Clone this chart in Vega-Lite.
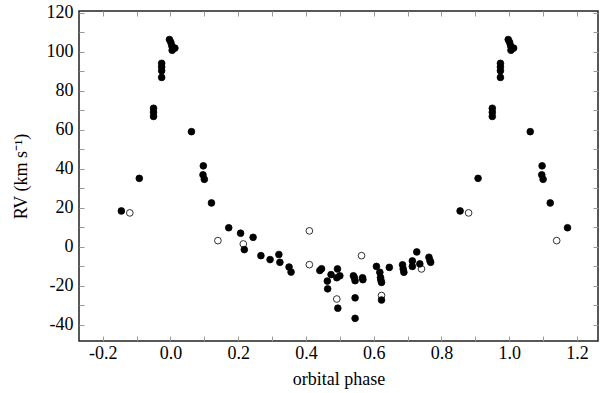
{
  "$schema": "https://vega.github.io/schema/vega-lite/v6.json",
  "width": 519,
  "height": 330,
  "autosize": {"type": "none"},
  "padding": {"left": 79, "top": 11, "right": 2, "bottom": 52},
  "background": "white",
  "config": {
    "view": {"stroke": "#222", "strokeWidth": 1.5},
    "font": "Liberation Serif",
    "axis": {
      "domain": false,
      "grid": false,
      "tickColor": "#999",
      "tickWidth": 1,
      "tickSize": 5,
      "offset": -5,
      "labelFont": "Liberation Serif",
      "labelFontSize": 18,
      "labelColor": "#000",
      "titleFont": "Liberation Serif",
      "titleFontSize": 18,
      "titleFontWeight": "normal",
      "titleColor": "#000"
    }
  },
  "data": {
    "values": [
      {"p": -0.12, "rv": 17.4, "t": "open"},
      {"p": 0.88, "rv": 17.4, "t": "open"},
      {"p": 0.14, "rv": 3.2, "t": "open"},
      {"p": 1.14, "rv": 3.2, "t": "open"},
      {"p": 0.215, "rv": 1.5, "t": "open"},
      {"p": 0.41, "rv": 8.2, "t": "open"},
      {"p": 0.41, "rv": -9.1, "t": "open"},
      {"p": 0.491, "rv": -26.7, "t": "open"},
      {"p": 0.564, "rv": -4.5, "t": "open"},
      {"p": 0.623, "rv": -24.9, "t": "open"},
      {"p": 0.741, "rv": -11.3, "t": "open"},
      {"p": -0.145, "rv": 18.4, "t": "filled"},
      {"p": 0.855, "rv": 18.4, "t": "filled"},
      {"p": -0.092, "rv": 35.1, "t": "filled"},
      {"p": 0.908, "rv": 35.1, "t": "filled"},
      {"p": -0.05, "rv": 71.0, "t": "filled"},
      {"p": 0.95, "rv": 71.0, "t": "filled"},
      {"p": -0.05, "rv": 69.0, "t": "filled"},
      {"p": 0.95, "rv": 69.0, "t": "filled"},
      {"p": -0.05, "rv": 66.8, "t": "filled"},
      {"p": 0.95, "rv": 66.8, "t": "filled"},
      {"p": -0.026, "rv": 94.0, "t": "filled"},
      {"p": 0.974, "rv": 94.0, "t": "filled"},
      {"p": -0.026, "rv": 92.2, "t": "filled"},
      {"p": 0.974, "rv": 92.2, "t": "filled"},
      {"p": -0.026, "rv": 90.2, "t": "filled"},
      {"p": 0.974, "rv": 90.2, "t": "filled"},
      {"p": -0.026, "rv": 86.8, "t": "filled"},
      {"p": 0.974, "rv": 86.8, "t": "filled"},
      {"p": -0.003, "rv": 106.2, "t": "filled"},
      {"p": 0.997, "rv": 106.2, "t": "filled"},
      {"p": 0.001, "rv": 104.8, "t": "filled"},
      {"p": 1.001, "rv": 104.8, "t": "filled"},
      {"p": 0.004, "rv": 103.0, "t": "filled"},
      {"p": 1.004, "rv": 103.0, "t": "filled"},
      {"p": 0.009, "rv": 101.8, "t": "filled"},
      {"p": 1.009, "rv": 101.8, "t": "filled"},
      {"p": 0.005, "rv": 100.7, "t": "filled"},
      {"p": 1.005, "rv": 100.7, "t": "filled"},
      {"p": 0.013, "rv": 101.8, "t": "filled"},
      {"p": 1.013, "rv": 101.8, "t": "filled"},
      {"p": 0.062, "rv": 59.0, "t": "filled"},
      {"p": 1.062, "rv": 59.0, "t": "filled"},
      {"p": 0.097, "rv": 41.5, "t": "filled"},
      {"p": 1.097, "rv": 41.5, "t": "filled"},
      {"p": 0.096, "rv": 36.9, "t": "filled"},
      {"p": 1.096, "rv": 36.9, "t": "filled"},
      {"p": 0.1, "rv": 34.6, "t": "filled"},
      {"p": 1.1, "rv": 34.6, "t": "filled"},
      {"p": 0.121, "rv": 22.5, "t": "filled"},
      {"p": 1.121, "rv": 22.5, "t": "filled"},
      {"p": 0.172, "rv": 9.8, "t": "filled"},
      {"p": 1.172, "rv": 9.8, "t": "filled"},
      {"p": 0.207, "rv": 7.0, "t": "filled"},
      {"p": 0.218, "rv": -1.4, "t": "filled"},
      {"p": 0.244, "rv": 4.9, "t": "filled"},
      {"p": 0.267, "rv": -4.5, "t": "filled"},
      {"p": 0.294, "rv": -6.5, "t": "filled"},
      {"p": 0.32, "rv": -3.9, "t": "filled"},
      {"p": 0.323, "rv": -7.9, "t": "filled"},
      {"p": 0.35, "rv": -10.3, "t": "filled"},
      {"p": 0.356, "rv": -12.9, "t": "filled"},
      {"p": 0.441, "rv": -12.1, "t": "filled"},
      {"p": 0.446, "rv": -11.2, "t": "filled"},
      {"p": 0.463, "rv": -17.5, "t": "filled"},
      {"p": 0.464, "rv": -21.5, "t": "filled"},
      {"p": 0.474, "rv": -14.2, "t": "filled"},
      {"p": 0.493, "rv": -11.3, "t": "filled"},
      {"p": 0.491, "rv": -15.8, "t": "filled"},
      {"p": 0.5, "rv": -14.8, "t": "filled"},
      {"p": 0.494, "rv": -31.4, "t": "filled"},
      {"p": 0.54, "rv": -14.8, "t": "filled"},
      {"p": 0.543, "rv": -15.8, "t": "filled"},
      {"p": 0.545, "rv": -17.3, "t": "filled"},
      {"p": 0.545, "rv": -26.1, "t": "filled"},
      {"p": 0.545, "rv": -36.6, "t": "filled"},
      {"p": 0.567, "rv": -15.8, "t": "filled"},
      {"p": 0.568, "rv": -16.8, "t": "filled"},
      {"p": 0.608, "rv": -10.0, "t": "filled"},
      {"p": 0.618, "rv": -13.0, "t": "filled"},
      {"p": 0.62, "rv": -15.6, "t": "filled"},
      {"p": 0.621, "rv": -16.9, "t": "filled"},
      {"p": 0.623, "rv": -18.2, "t": "filled"},
      {"p": 0.623, "rv": -27.2, "t": "filled"},
      {"p": 0.646, "rv": -10.5, "t": "filled"},
      {"p": 0.685, "rv": -9.2, "t": "filled"},
      {"p": 0.687, "rv": -11.3, "t": "filled"},
      {"p": 0.689, "rv": -13.0, "t": "filled"},
      {"p": 0.714, "rv": -7.2, "t": "filled"},
      {"p": 0.714, "rv": -10.0, "t": "filled"},
      {"p": 0.727, "rv": -2.6, "t": "filled"},
      {"p": 0.736, "rv": -8.7, "t": "filled"},
      {"p": 0.763, "rv": -5.3, "t": "filled"},
      {"p": 0.766, "rv": -7.0, "t": "filled"},
      {"p": 0.768, "rv": -7.9, "t": "filled"}
    ]
  },
  "resolve": {"axis": {"x": "independent", "y": "independent"}},
  "layer": [
    {
      "mark": {"type": "point", "filled": true, "shape": "circle", "size": 45, "stroke": "#000", "strokeWidth": 0.8, "opacity": 1},
      "encoding": {
        "x": {
          "field": "p", "type": "quantitative",
          "scale": {"domain": [-0.27, 1.262], "nice": false, "zero": false},
          "axis": {
            "orient": "bottom",
            "title": "orbital phase",
            "values": [-0.2, -0.1, 0, 0.1, 0.2, 0.3, 0.4, 0.5, 0.6, 0.7, 0.8, 0.9, 1.0, 1.1, 1.2],
            "labelExpr": "abs(round(datum.value*10)) % 2 == 0 ? replace(format(datum.value, '.1f'), '\u2212', '-') : ''",
            "labelPadding": 3,
            "titlePadding": 8
          }
        },
        "y": {
          "field": "rv", "type": "quantitative",
          "scale": {"domain": [-48.2, 120.8], "nice": false, "zero": false},
          "axis": {
            "orient": "left",
            "title": "RV (km s\u207b\u00b9)",
            "values": [-40, -30, -20, -10, 0, 10, 20, 30, 40, 50, 60, 70, 80, 90, 100, 110, 120],
            "labelExpr": "abs(round(datum.value)) % 20 == 0 ? replace(format(datum.value, 'd'), '\u2212', '-') : ''",
            "labelPadding": 6,
            "titlePadding": 16
          }
        },
        "fill": {
          "field": "t", "type": "nominal",
          "scale": {"domain": ["filled", "open"], "range": ["#000", "#fff"]},
          "legend": null
        }
      }
    },
    {
      "mark": {"type": "point", "opacity": 0},
      "encoding": {
        "x": {
          "field": "p", "type": "quantitative",
          "axis": {
            "orient": "top", "title": null, "labels": false,
            "values": [-0.2, -0.1, 0, 0.1, 0.2, 0.3, 0.4, 0.5, 0.6, 0.7, 0.8, 0.9, 1.0, 1.1, 1.2]
          }
        },
        "y": {
          "field": "rv", "type": "quantitative",
          "axis": {
            "orient": "right", "title": null, "labels": false,
            "values": [-40, -30, -20, -10, 0, 10, 20, 30, 40, 50, 60, 70, 80, 90, 100, 110, 120]
          }
        }
      }
    }
  ]
}
